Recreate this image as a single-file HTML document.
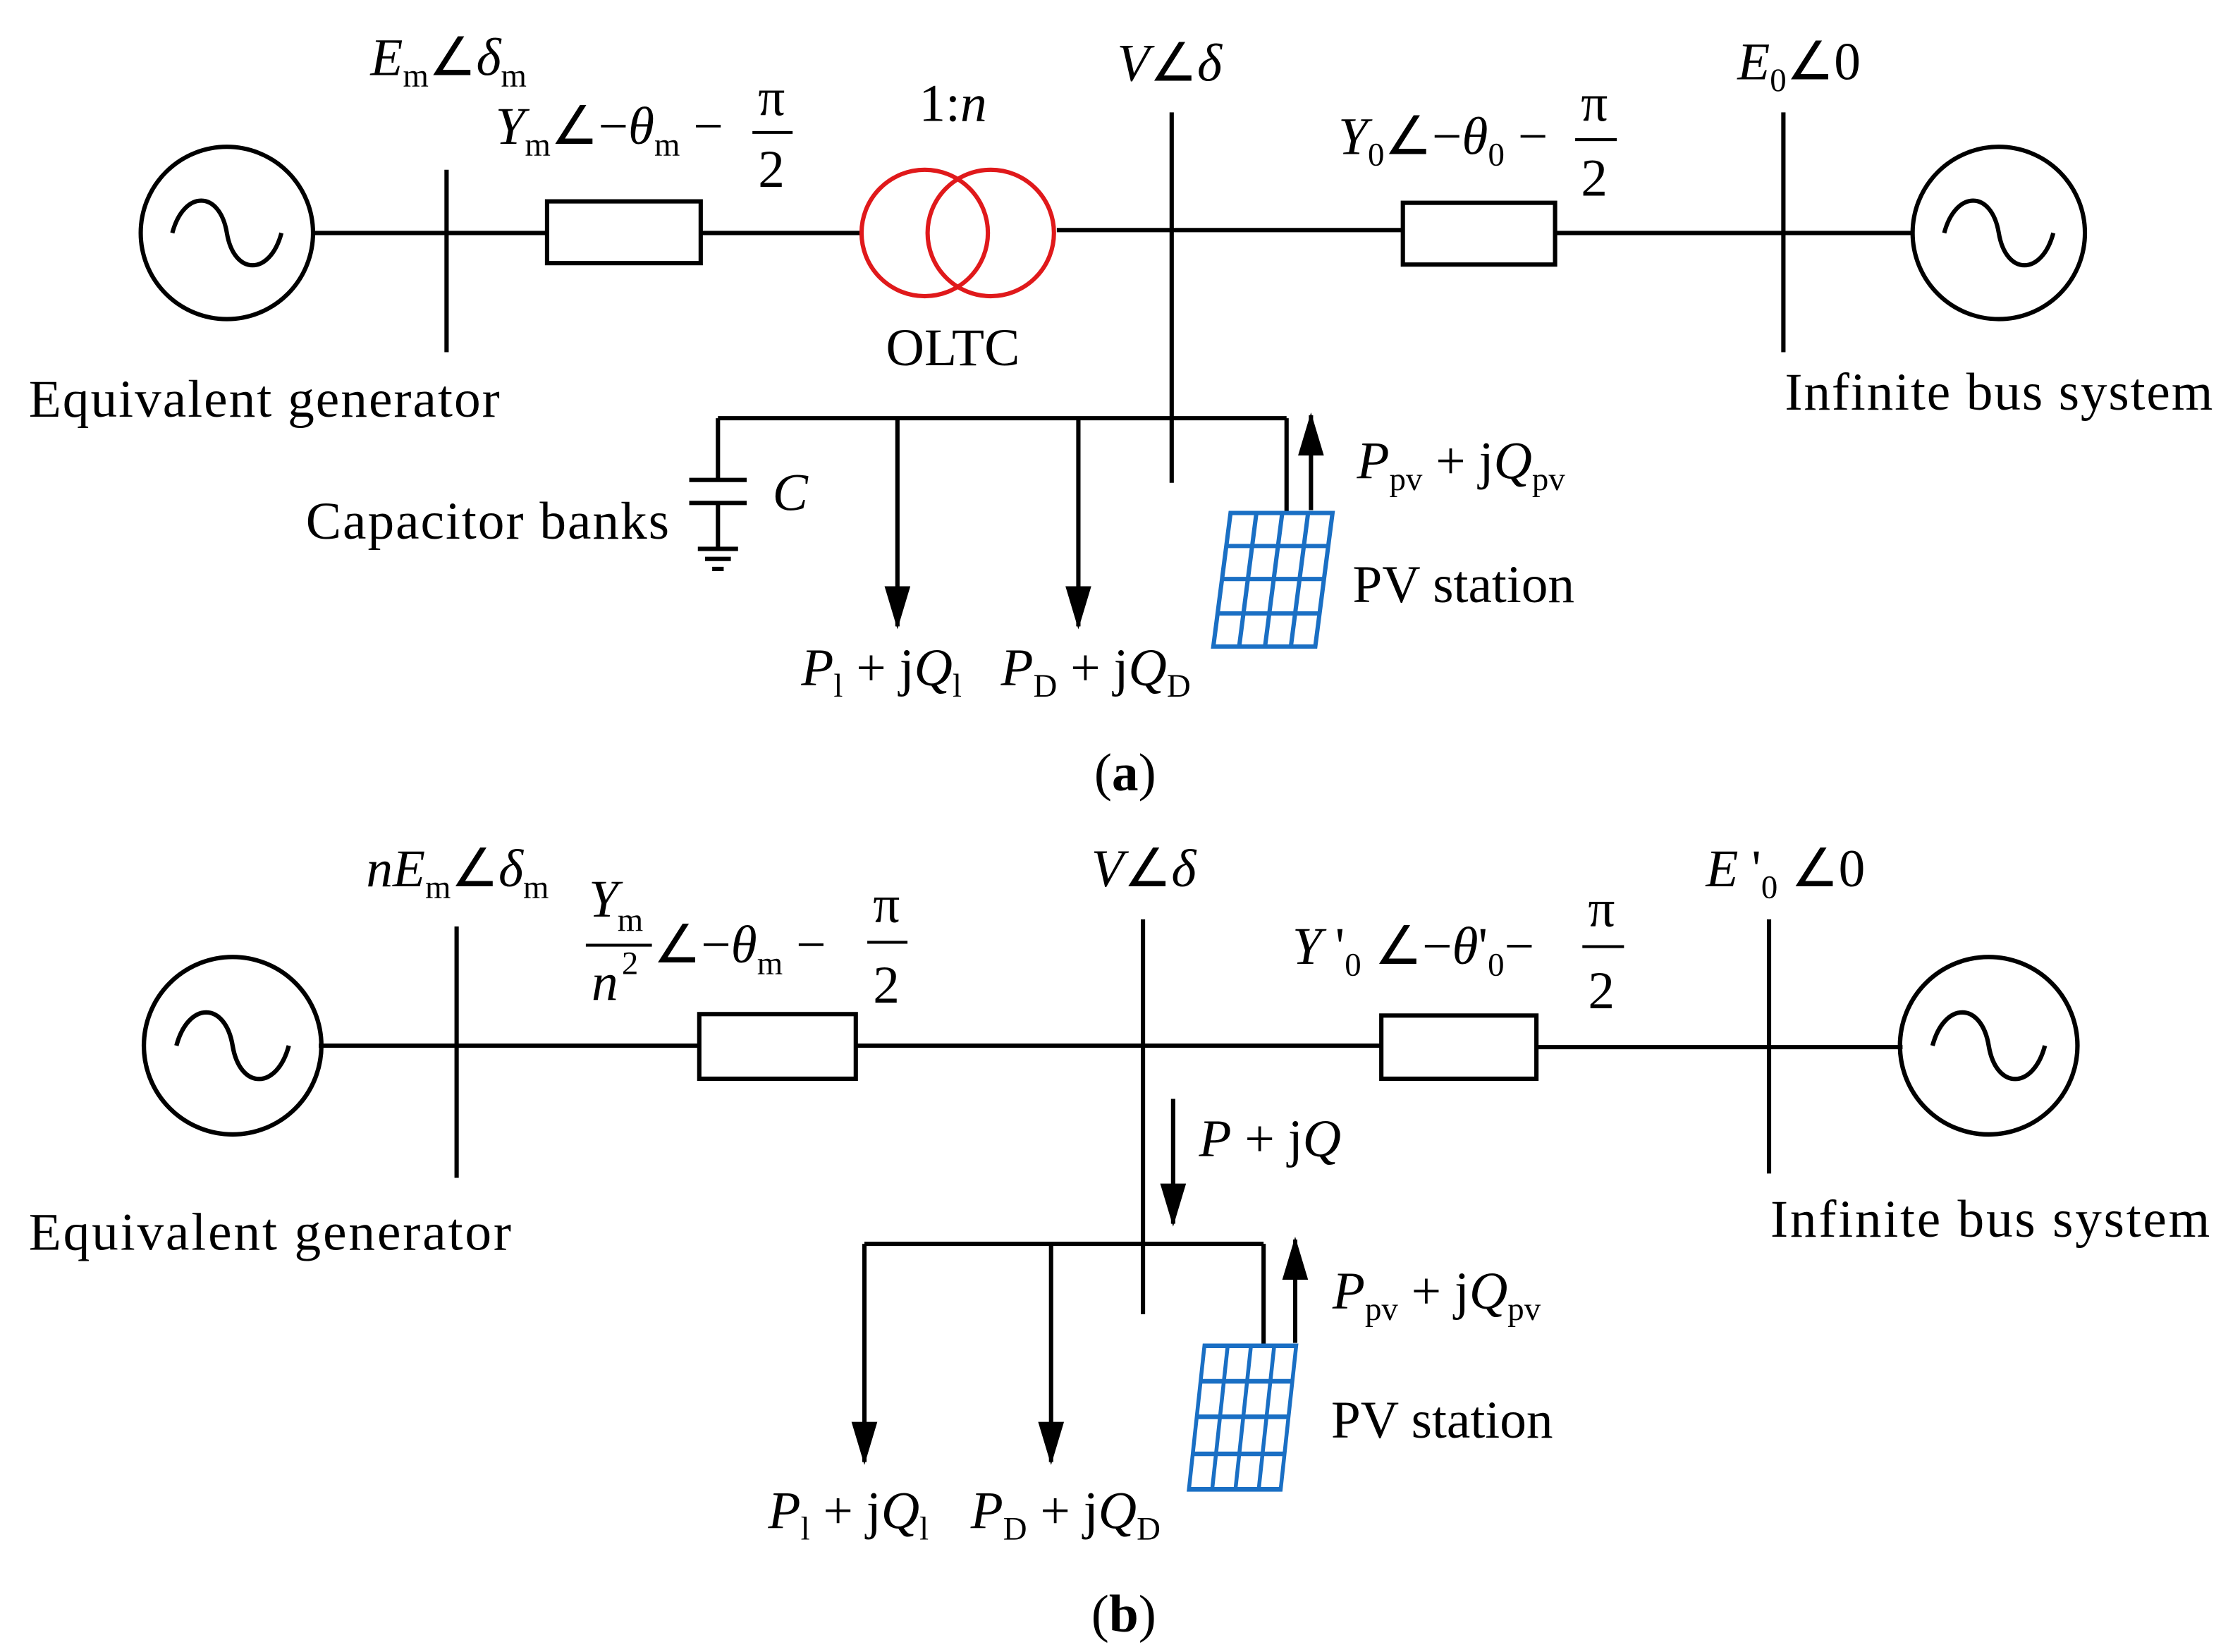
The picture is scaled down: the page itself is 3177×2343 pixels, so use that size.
<!DOCTYPE html>
<html><head><meta charset="utf-8"><style>
html,body{margin:0;padding:0;background:#fff;}
svg{display:block;}
text{font-family:"Liberation Serif",serif;fill:#000;}
.i{font-style:italic;}
</style></head><body>
<svg width="3177" height="2343" viewBox="0 0 1560 1150" xmlns="http://www.w3.org/2000/svg">
<defs>
<marker id="ah" markerWidth="30" markerHeight="18" refX="28" refY="9" orient="auto" markerUnits="userSpaceOnUse" viewBox="0 0 30 18">
<path d="M0,0 L30,9 L0,18 z" fill="#000"/></marker>
<g id="gen"><circle cx="0" cy="0" r="60" fill="none" stroke="#000" stroke-width="3"/>
<path d="M-38,0 C-30,-30 -5,-30 0,0 C5,30 30,30 38,0" fill="none" stroke="#000" stroke-width="3"/></g>
<g id="pv" fill="none" stroke="#1a6fc4" stroke-width="3">
<path d="M12,0 L83,0 L71,93 L0,93 Z"/>
<path d="M9,23 L80,23 M6,46 L77,46 M3,70 L74,70"/>
<path d="M30,0 L18,93 M48,0 L36,93 M66,0 L54,93"/>
</g>
</defs>
<g stroke="#000" stroke-width="3" fill="none">
<line x1="218" y1="162" x2="381" y2="162"/>
<line x1="311" y1="118" x2="311" y2="245"/>
<rect x="381" y="140" width="107" height="43"/>
<line x1="488" y1="162" x2="600" y2="162"/>
<line x1="736" y1="160" x2="977" y2="160"/>
<line x1="816" y1="78" x2="816" y2="336"/>
<rect x="977" y="141" width="106" height="43"/>
<line x1="1083" y1="162" x2="1332" y2="162"/>
<line x1="1242" y1="78" x2="1242" y2="245"/>
<line x1="500" y1="291" x2="896" y2="291"/>
<line x1="500" y1="291" x2="500" y2="334"/>
<line x1="480" y1="334" x2="520" y2="334"/>
<line x1="480" y1="350" x2="520" y2="350"/>
<line x1="500" y1="350" x2="500" y2="382"/>
<line x1="486" y1="382" x2="514" y2="382"/>
<line x1="491" y1="389" x2="509" y2="389"/>
<line x1="496" y1="396" x2="504" y2="396"/>
<line x1="625" y1="291" x2="625" y2="436" marker-end="url(#ah)"/>
<line x1="751" y1="291" x2="751" y2="436" marker-end="url(#ah)"/>
<line x1="896" y1="291" x2="896" y2="357"/>
<line x1="913" y1="355" x2="913" y2="289" marker-end="url(#ah)"/>
<line x1="222" y1="728" x2="487" y2="728"/>
<line x1="318" y1="645" x2="318" y2="820"/>
<rect x="487" y="706" width="109" height="45"/>
<line x1="596" y1="728" x2="962" y2="728"/>
<line x1="796" y1="640" x2="796" y2="915"/>
<rect x="962" y="707" width="108" height="44"/>
<line x1="1070" y1="729" x2="1325" y2="729"/>
<line x1="1232" y1="640" x2="1232" y2="817"/>
<line x1="817" y1="765" x2="817" y2="852" marker-end="url(#ah)"/>
<line x1="602" y1="866" x2="880" y2="866"/>
<line x1="602" y1="866" x2="602" y2="1018" marker-end="url(#ah)"/>
<line x1="732" y1="866" x2="732" y2="1018" marker-end="url(#ah)"/>
<line x1="880" y1="866" x2="880" y2="937"/>
<line x1="902" y1="935" x2="902" y2="863" marker-end="url(#ah)"/>
</g>
<use href="#gen" x="158" y="162"/>
<use href="#gen" x="1392" y="162"/>
<use href="#gen" transform="translate(162,728) scale(1.03)"/>
<use href="#gen" transform="translate(1385,728) scale(1.03)"/>
<circle cx="644" cy="162" r="44" fill="none" stroke="#e0191b" stroke-width="3"/>
<circle cx="690" cy="162" r="44" fill="none" stroke="#e0191b" stroke-width="3"/>
<use href="#pv" x="845" y="357"/>
<use href="#pv" transform="translate(828,937) scale(0.9,1.075)"/>

<g font-size="37">
<text x="258" y="52"><tspan class="i">E</tspan><tspan font-size="23" dy="8">m</tspan><tspan dy="-8">∠</tspan><tspan class="i">δ</tspan><tspan font-size="23" dy="8">m</tspan></text>
<text x="345" y="100"><tspan class="i">Y</tspan><tspan font-size="23" dy="8">m</tspan><tspan dy="-8">∠−</tspan><tspan class="i">θ</tspan><tspan font-size="23" dy="8">m</tspan><tspan dy="-8"> −</tspan></text>
<text x="528" y="80">π</text><line x1="524" y1="92" x2="552" y2="92" stroke="#000" stroke-width="2"/><text x="528" y="130">2</text>
<text x="640" y="84">1:<tspan class="i">n</tspan></text>
<text x="778" y="56"><tspan class="i">V</tspan>∠<tspan class="i">δ</tspan></text>
<text x="932" y="107"><tspan class="i">Y</tspan><tspan font-size="23" dy="8">0</tspan><tspan dy="-8">∠−</tspan><tspan class="i">θ</tspan><tspan font-size="23" dy="8">0</tspan><tspan dy="-8"> −</tspan></text>
<text x="1101" y="84">π</text><line x1="1097" y1="97" x2="1126" y2="97" stroke="#000" stroke-width="2"/><text x="1101" y="136">2</text>
<text x="1210" y="55"><tspan class="i">E</tspan><tspan font-size="23" dy="8">0</tspan><tspan dy="-8">∠0</tspan></text>
<text x="617" y="254">OLTC</text>
<text x="20" y="290" textLength="328">Equivalent generator</text>
<text x="1243" y="285" textLength="298">Infinite bus system</text>
<text x="213" y="375" textLength="253">Capacitor banks</text>
<text x="538" y="355" class="i">C</text>
<text x="945" y="333"><tspan class="i">P</tspan><tspan font-size="23" dy="8">pv</tspan><tspan dy="-8"> + j</tspan><tspan class="i">Q</tspan><tspan font-size="23" dy="8">pv</tspan></text>
<text x="942" y="419">PV station</text>
<text x="558" y="477"><tspan class="i">P</tspan><tspan font-size="23" dy="8">l</tspan><tspan dy="-8"> + j</tspan><tspan class="i">Q</tspan><tspan font-size="23" dy="8">l</tspan></text>
<text x="697" y="477"><tspan class="i">P</tspan><tspan font-size="23" dy="8">D</tspan><tspan dy="-8"> + j</tspan><tspan class="i">Q</tspan><tspan font-size="23" dy="8">D</tspan></text>
<text x="762" y="550">(<tspan font-weight="bold">a</tspan>)</text>
<text x="255" y="617"><tspan class="i">nE</tspan><tspan font-size="23" dy="8">m</tspan><tspan dy="-8">∠</tspan><tspan class="i">δ</tspan><tspan font-size="23" dy="8">m</tspan></text>
<text x="410" y="638" class="i">Y</text><text x="430" y="648" font-size="23">m</text>
<line x1="408" y1="658" x2="454" y2="658" stroke="#000" stroke-width="2"/>
<text x="412" y="696" class="i">n</text><text x="433" y="678" font-size="23">2</text>
<text x="455" y="670">∠−<tspan class="i">θ</tspan><tspan font-size="23" dy="8">m</tspan><tspan dy="-8"> −</tspan></text>
<text x="608" y="642">π</text><line x1="604" y1="656" x2="632" y2="656" stroke="#000" stroke-width="2"/><text x="608" y="698">2</text>
<text x="760" y="617"><tspan class="i">V</tspan>∠<tspan class="i">δ</tspan></text>
<text x="900" y="671"><tspan class="i">Y</tspan> '<tspan font-size="23" dy="8">0</tspan><tspan dy="-8"> ∠−</tspan><tspan class="i">θ</tspan>'<tspan font-size="23" dy="8">0</tspan><tspan dy="-8">−</tspan></text>
<text x="1106" y="645">π</text><line x1="1102" y1="659" x2="1131" y2="659" stroke="#000" stroke-width="2"/><text x="1106" y="702">2</text>
<text x="1188" y="617"><tspan class="i">E</tspan> '<tspan font-size="23" dy="8">0</tspan><tspan dy="-8"> ∠0</tspan></text>
<text x="835" y="805"><tspan class="i">P</tspan> + j<tspan class="i">Q</tspan></text>
<text x="20" y="870" textLength="336">Equivalent generator</text>
<text x="1233" y="861" textLength="306">Infinite bus system</text>
<text x="928" y="911"><tspan class="i">P</tspan><tspan font-size="23" dy="8">pv</tspan><tspan dy="-8"> + j</tspan><tspan class="i">Q</tspan><tspan font-size="23" dy="8">pv</tspan></text>
<text x="927" y="1001">PV station</text>
<text x="535" y="1064"><tspan class="i">P</tspan><tspan font-size="23" dy="8">l</tspan><tspan dy="-8"> + j</tspan><tspan class="i">Q</tspan><tspan font-size="23" dy="8">l</tspan></text>
<text x="676" y="1064"><tspan class="i">P</tspan><tspan font-size="23" dy="8">D</tspan><tspan dy="-8"> + j</tspan><tspan class="i">Q</tspan><tspan font-size="23" dy="8">D</tspan></text>
<text x="760" y="1136">(<tspan font-weight="bold">b</tspan>)</text>
</g>
</svg>
</body></html>
